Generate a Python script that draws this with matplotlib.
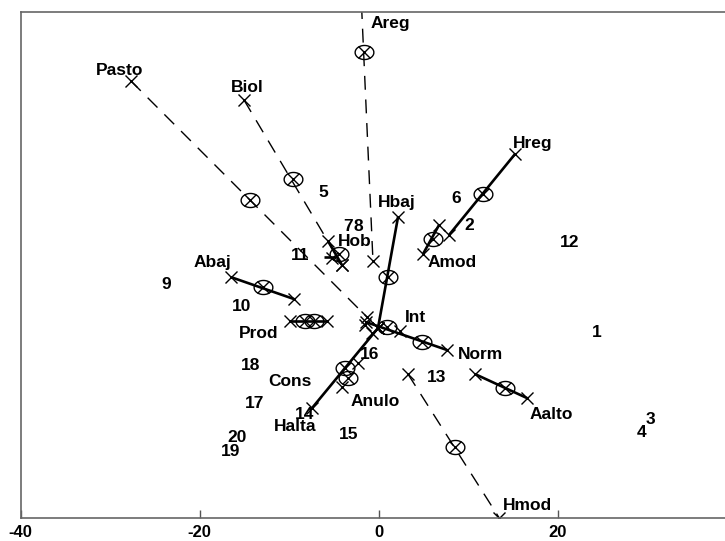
import numpy as np
import matplotlib
matplotlib.use("Agg")
import matplotlib.pyplot as plt
from matplotlib.path import Path

plt.rcParams['font.family'] = ['Liberation Sans', 'DejaVu Sans']

# ---- segments between category points (data units) ----
seg_names = ['Pasto', 'Biol', 'Areg', 'Hmod', 'Hreg', 'Amod', 'Hbaj', 'Halta',
             'Norm', 'Aalto', 'Abaj', 'Prod', 'Hob', 'HobB']
seg_x0 = [-27.68, -15.05, -1.92, 3.27, 15.23, 6.74, 2.16, -0.08, -1.42, 10.76, -16.45, -9.91, -5.66, -6.11]
seg_y0 = [27.82, 25.70, 36.30, -4.92, 19.66, 11.73, 12.63, 0.22, 0.89, -4.92, 5.89, 1.01, 9.94, 8.16]
seg_x1 = [-1.31, -4.10, -0.64, 13.44, 7.85, 4.95, -0.08, -7.45, 7.63, 16.57, -9.46, -5.78, -4.10, -4.77]
seg_y1 = [1.45, 7.26, 7.71, -20.95, 10.61, 8.49, 0.22, -8.72, -2.23, -7.60, 3.46, 1.01, 7.26, 8.16]
seg_dashed = [True, True, True, True, False, False, False, False,
              False, False, False, False, False, False]

# ---- centroid markers (circle with cross) ----
circ_x = [-14.38, -9.63, -1.64, 8.53, 11.65, 6.07, 1.04, -3.76, -3.43, 0.93, 4.84, 14.06, -12.89, -8.23, -7.23, -4.44]
circ_y = [14.53, 16.87, 31.06, -13.04, 15.20, 10.17, 5.92, -4.25, -5.36, 0.34, -1.34, -6.48, 4.77, 1.01, 1.01, 8.49]

# ---- extra category crosses ----
extra_x = [-2.31, -4.13, 2.38, -1.53, -0.75, -5.22, -0.08]
extra_y = [-3.69, -6.34, -0.11, 0.56, -0.34, 8.04, 0.22]

# ---- category labels ----
cat_labels = ['Pasto', 'Biol', 'Areg', 'Hreg', 'Hbaj', 'Hob', 'Amod', 'Abaj', 'Int', 'Norm',
              'Prod', 'Cons', 'Anulo', 'Halta', 'Aalto', 'Hmod']
cat_lx = [-28.90, -14.71, 1.26, 17.24, 2.04, -2.65, 8.19, -18.63, 4.06, 11.32,
          -13.37, -9.91, -0.41, -9.35, 19.25, 16.57]
cat_ly = [29.05, 27.15, 34.19, 20.89, 14.30, 9.94, 7.49, 7.60, 1.45, -2.68,
          -0.34, -5.70, -8.04, -10.73, -9.39, -19.55]

# ---- observation labels ----
obs_labels = ['1', '2', '3', '4', '5', '6', '7', '8', '9', '10', '11', '12', '13', '14',
              '15', '16', '17', '18', '19', '20']
obs_x = [24.39, 10.09, 30.31, 29.42, -6.22, 8.64, -3.43, -2.31, -23.77, -15.27, -8.79, 21.37,
         6.52, -8.23, -3.32, -0.97, -13.82, -14.27, -16.50, -15.83]
obs_y = [-0.22, 11.73, -9.94, -11.40, 15.31, 14.64, 11.54, 11.54, 5.14, 2.68, 8.38, 9.83,
         -5.25, -9.39, -11.62, -2.68, -8.16, -3.91, -13.52, -11.96]

xticks = [-40, -20, 0, 20, 40]

fig = plt.figure(figsize=(7.25, 5.41), dpi=100)
ax = fig.add_axes([0.02855, 0.04251, 0.98759, 0.93530])
ax.set_xlim(-40, 40)
ax.set_ylim(-21.0, 35.53)

for x0, y0, x1, y1, d in zip(seg_x0, seg_y0, seg_x1, seg_y1, seg_dashed):
    if d:
        ax.plot([x0, x1], [y0, y1], color='black', lw=1.0, dashes=(10, 7))
    else:
        ax.plot([x0, x1], [y0, y1], color='black', lw=1.9, solid_capstyle='butt')

# crosses at segment endpoints
end_x = seg_x0[:-1] + seg_x1[:-1]
end_y = seg_y0[:-1] + seg_y1[:-1]
ax.plot(end_x + extra_x, end_y + extra_y, ls='none', marker='x', ms=8.5,
        mew=1.0, color='black')

# ellipse marker
t = np.linspace(0, 2 * np.pi, 60)
ell = Path(np.column_stack([np.cos(t), 0.75 * np.sin(t)]))
ax.plot(circ_x, circ_y, ls='none', marker=ell, ms=13.5, mfc='none', mec='black', mew=1.0)
ax.plot(circ_x, circ_y, ls='none', marker='x', ms=8, mew=1.0, color='black')

for s, x, y in zip(cat_labels, cat_lx, cat_ly):
    ax.text(x, y, s, ha='center', va='center', fontsize=12.5, fontweight='bold')
for s, x, y in zip(obs_labels, obs_x, obs_y):
    ax.text(x, y, s, ha='center', va='center', fontsize=12.5, fontweight='bold')

ax.set_xticks(xticks)
ax.set_xticklabels([str(v) for v in xticks], fontweight='bold', fontsize=12)
ax.set_yticks([])
ax.tick_params(axis='x', direction='in', length=6, width=1.0, color='#555555', pad=5)
for sp in ['left', 'top', 'bottom']:
    ax.spines[sp].set_color('#666666')
    ax.spines[sp].set_linewidth(1.2)
ax.spines['right'].set_visible(False)

fig.savefig('out.png', dpi=100)
